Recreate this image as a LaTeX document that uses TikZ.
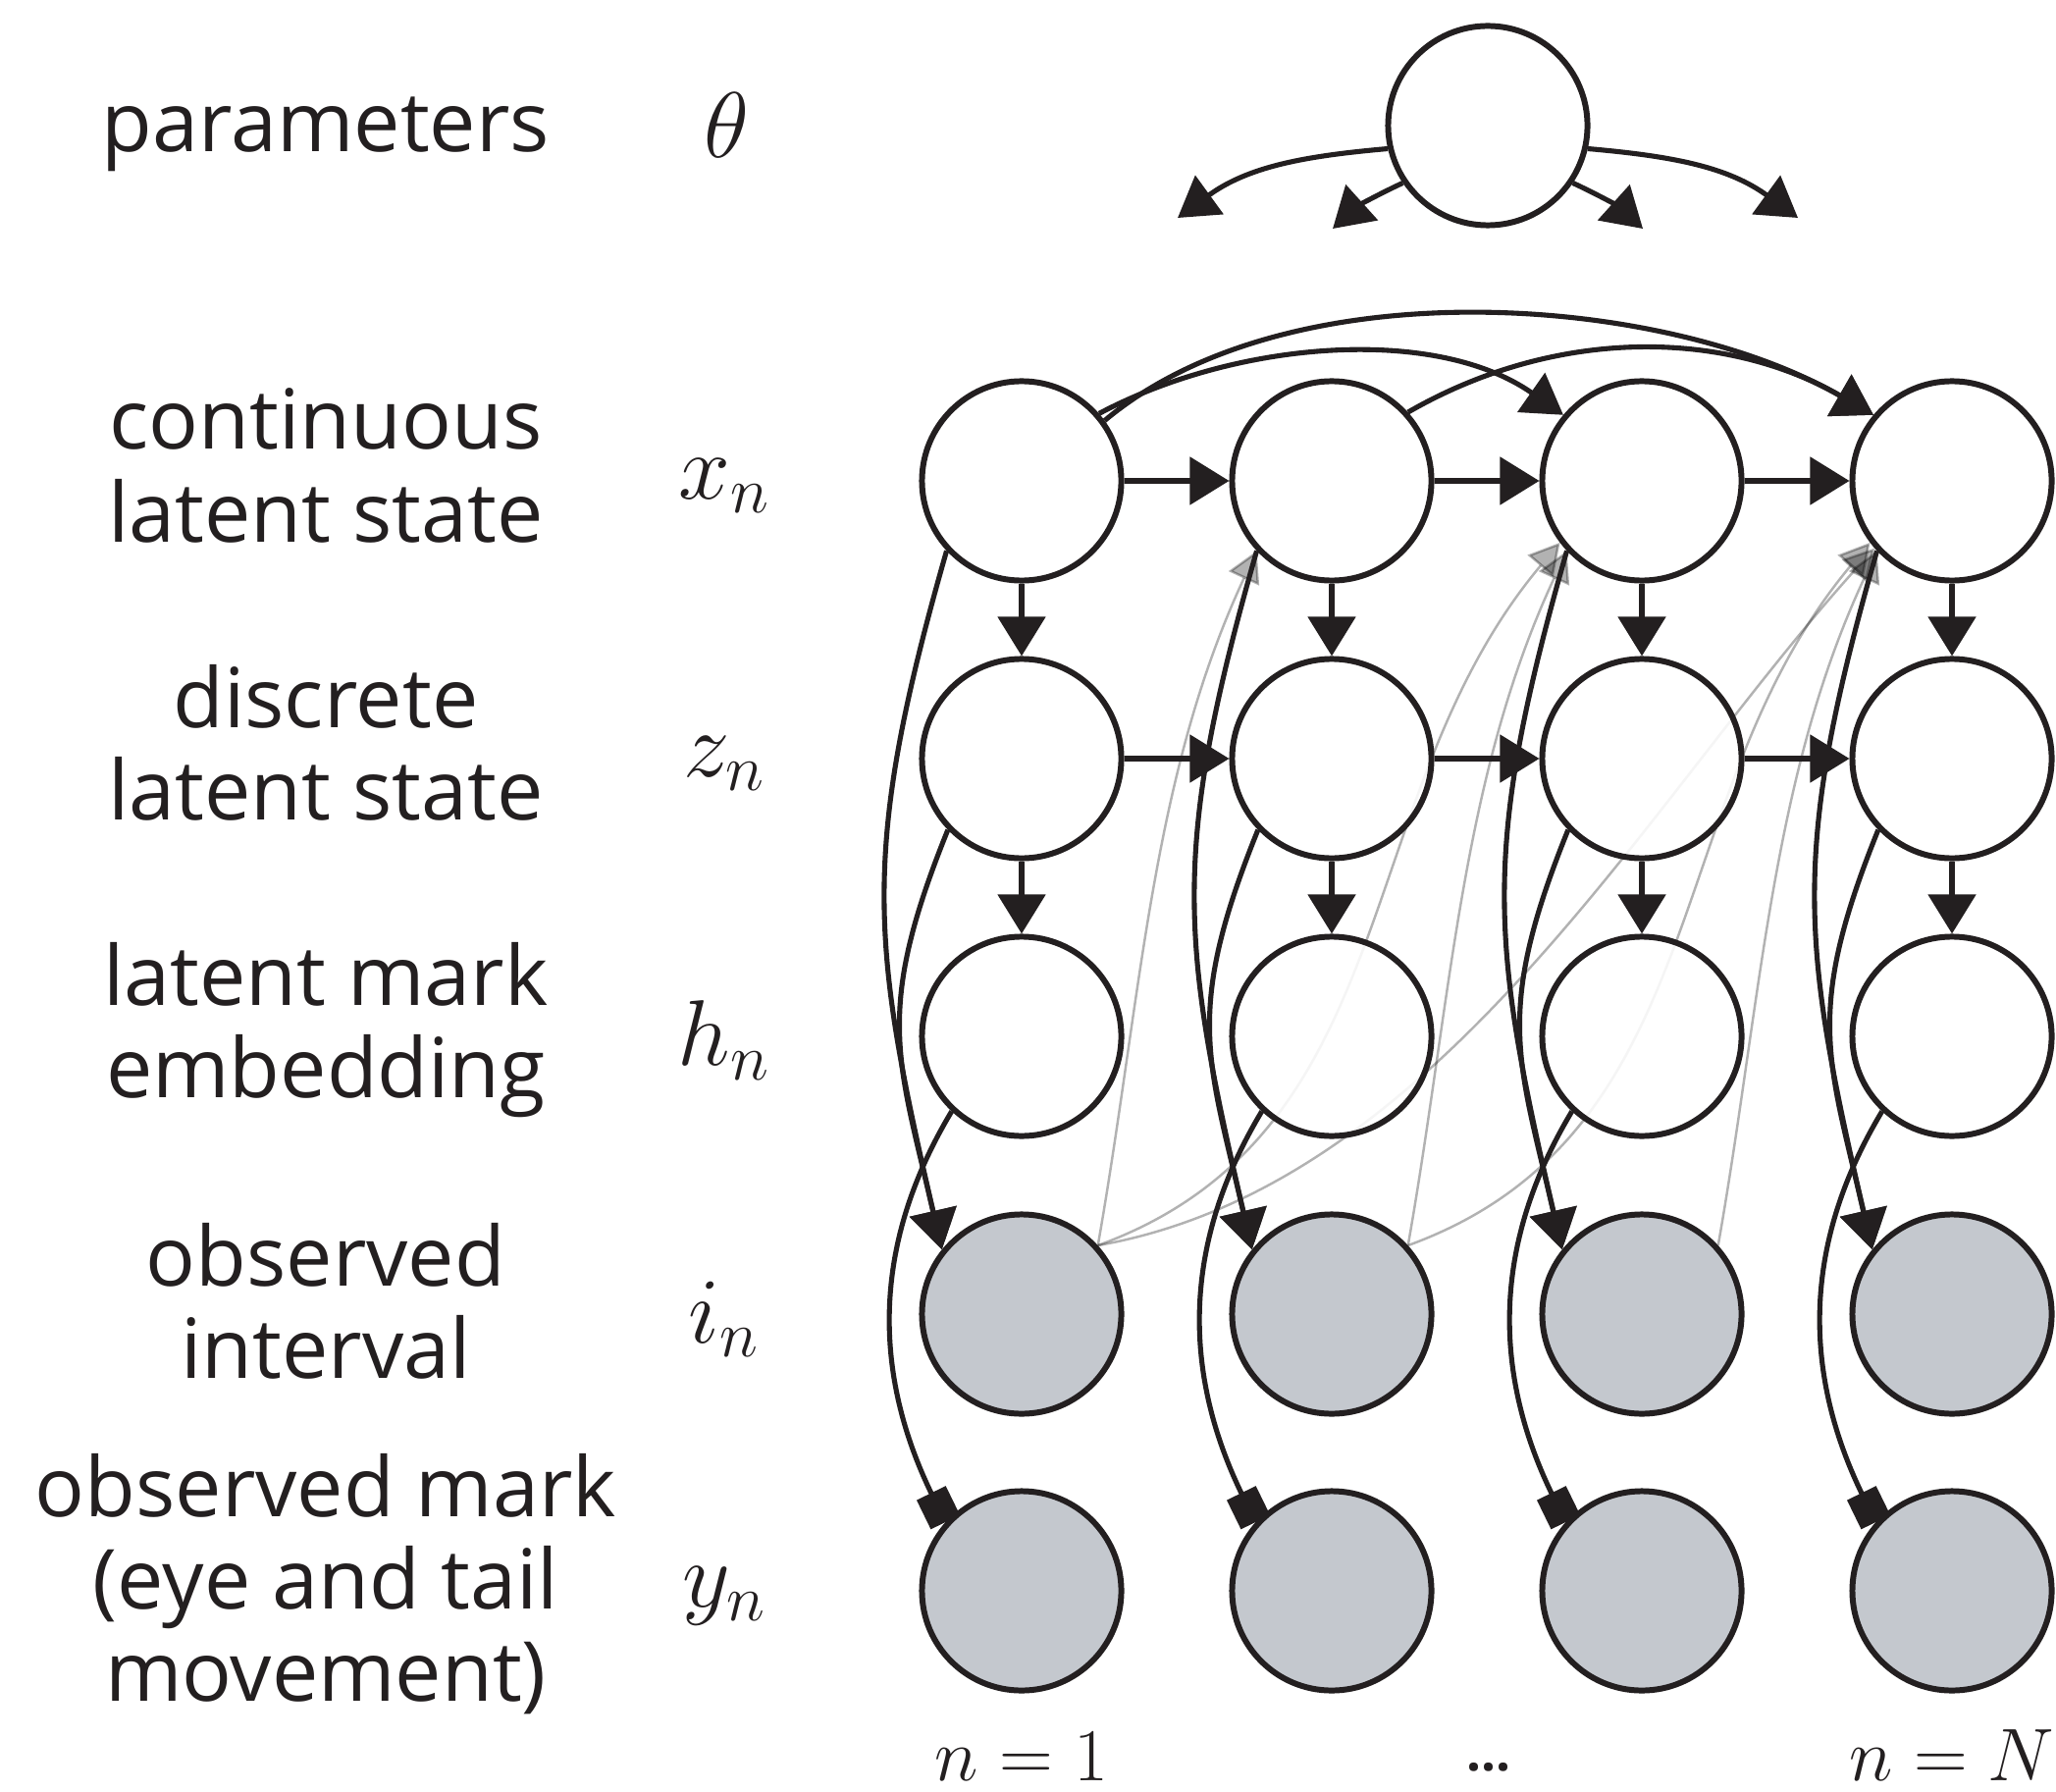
\RequirePackage{fix-cm}
\documentclass[tikz,border=0pt]{standalone}
\usepackage{fontspec}
\setmainfont{Open Sans}
\usetikzlibrary{arrows.meta}
\definecolor{ink}{RGB}{35,31,32}
\definecolor{obsfill}{RGB}{196,200,206}
\pgfdeclarelayer{behind}
\pgfsetlayers{behind,main}

\begin{document}
\begin{tikzpicture}[x=0.01cm,y=0.01cm,
  var/.style={circle, draw=ink, line width=1.7pt, minimum size=2.03cm, inner sep=0pt,
              fill=white, fill opacity=0.88},
  obs/.style={var, fill=obsfill, fill opacity=1},
  edge/.style={draw=ink, line width=1.45pt, -{Triangle[length=0.4cm,width=0.48cm]}},
  markedge/.style={draw=ink, line width=1.45pt, -{Square[length=0.33cm,width=0.33cm]}},
  faint/.style={draw=black, line width=0.7pt, opacity=0.3,
                -{Triangle[length=0.31cm,width=0.34cm]}},
  rowlabel/.style={anchor=base, inner sep=0pt, text=ink,
                   font=\fontsize{24}{26.8}\selectfont},
  mathlabel/.style={inner sep=0pt, text=ink, font=\fontsize{27}{30}\selectfont},
  idxlabel/.style={anchor=base, inner sep=0pt, text=ink, font=\fontsize{21.6}{24}\selectfont},
]
\useasboundingbox (0,0) rectangle (2095,-1825);
\begin{pgfonlayer}{behind}
  \fill[white] (0,0) rectangle (2095,-1825);
\end{pgfonlayer}

% row descriptions
\node[rowlabel] (lpar) at (332,-155) {parameters};
\node[rowlabel] (lcont) at (332,-458) {\begin{tabular}[t]{@{}c@{}}continuous\\latent state\end{tabular}};
\node[rowlabel] (ldisc) at (332,-741) {\begin{tabular}[t]{@{}c@{}}discrete\\latent state\end{tabular}};
\node[rowlabel] (lmark) at (332,-1024) {\begin{tabular}[t]{@{}c@{}}latent mark\\embedding\end{tabular}};
\node[rowlabel] (lint) at (332,-1310) {\begin{tabular}[t]{@{}c@{}}observed\\interval\end{tabular}};
\node[rowlabel] (lobs) at (332,-1545) {\begin{tabular}[t]{@{}c@{}}observed mark\\(eye and tail\\movement)\end{tabular}};

% symbols
\node[mathlabel] (stheta) at (740,-128) {$\theta$};
\node[mathlabel] (sx) at (738,-495) {$x_n$};
\node[mathlabel] (sz) at (738,-778) {$z_n$};
\node[mathlabel] (sh) at (738,-1060) {$h_n$};
\node[mathlabel] (si) at (738,-1344) {$i_n$};
\node[mathlabel] (sy) at (738,-1626) {$y_n$};

% index labels
\node[idxlabel] (nfirst) at (1041,-1814) {$n=1$};
\node[idxlabel, font=\fontsize{15}{18}\selectfont\bfseries] (ndots) at (1517,-1804) {...};
\node[idxlabel] (nlast) at (1989,-1814) {$n=N$};

% global parameters
\node[var] (th) at (1516,-128) {};
\coordinate (tL1) at (1200,-222);
\coordinate (tL2) at (1358,-233);
\coordinate (tR2) at (1674,-233);
\coordinate (tR1) at (1832,-222);
\draw[edge] (th.193) to[out=185,in=36] (tL1);
\draw[edge] (th.214.6) to[out=205,in=42] (tL2);
\draw[edge] (th.-34.6) to[out=-25,in=138] (tR2);
\draw[edge] (th.-13) to[out=-5,in=144] (tR1);

% variables, one column per time step
\foreach \k/\cx in {1/1041,2/1357,3/1673,4/1989}{
  \node[var] (x\k) at (\cx,-490) {};
  \node[var] (z\k) at (\cx,-773) {};
  \node[var] (h\k) at (\cx,-1056) {};
  \node[obs] (i\k) at (\cx,-1339) {};
  \node[obs] (y\k) at (\cx,-1621) {};
}

% intervals feeding later continuous states (drawn underneath the nodes)
\begin{pgfonlayer}{behind}
  \foreach \a/\b in {1/2,2/3,3/4}
    \draw[faint] (i\a.42) to[out=80,in=245,looseness=0.9] (x\b.223);
  \foreach \a/\b in {1/3,2/4}
    \draw[faint] (i\a.42) to[out=20,in=230] (x\b.217);
  \draw[faint] (i1.42) to[out=10,in=228,looseness=0.85] (x4.221);
\end{pgfonlayer}

% chains in time
\foreach \a/\b in {1/2,2/3,3/4}{
  \draw[edge] (x\a) -- (x\b);
  \draw[edge] (z\a) -- (z\b);
}

% long-range dependencies of the continuous state
\draw[edge] (x1.41) to[out=28,in=145,looseness=0.86] (x3.140);
\draw[edge] (x1.36) to[out=40,in=150,looseness=0.8] (x4.140);
\draw[edge] (x2.42) to[out=30,in=150,looseness=0.94] (x4.140);

% within each time step
\foreach \k in {1,...,4}{
  \draw[edge] (x\k) -- (z\k);
  \draw[edge] (z\k) -- (h\k);
  \draw[edge] (x\k.223) to[out=254,in=103,looseness=1.15] (i\k.141);
  \draw[edge] (z\k.224) to[out=248,in=103,looseness=1.2] (i\k.141);
  \draw[markedge] (h\k.227) to[out=239,in=116] (y\k.138);
}
\end{tikzpicture}
\end{document}
